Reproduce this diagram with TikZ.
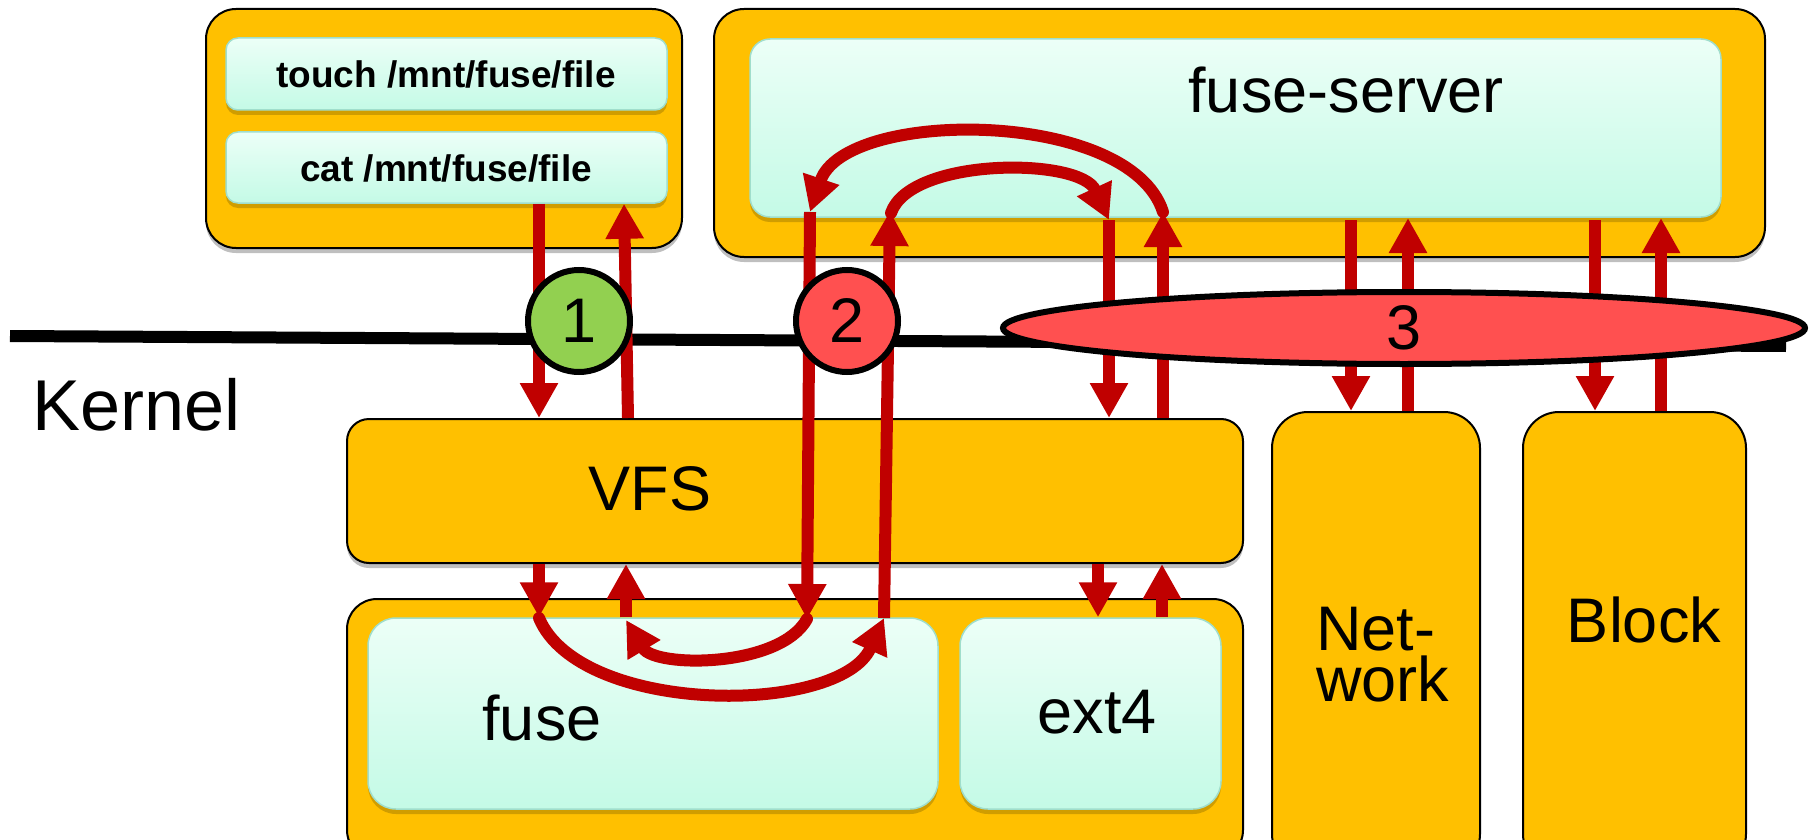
\documentclass[tikz,border=0pt]{standalone}
\usepackage{fontspec}
\setmainfont{Liberation Sans}
\usetikzlibrary{arrows.meta,shadows,shapes.geometric}
\definecolor{orng}{HTML}{FFC000}
\definecolor{arrred}{HTML}{C00000}
\definecolor{mintT}{RGB}{236,255,247}
\definecolor{mintB}{RGB}{196,250,230}
\definecolor{mintD}{RGB}{160,222,204}
\definecolor{grn}{HTML}{92D050}
\definecolor{rd}{HTML}{FF5050}
\begin{document}
\begin{tikzpicture}[x=1pt,y=-1pt,
  outerbox/.style={draw=black,line width=2pt,fill=orng,rounded corners=30pt,inner sep=0pt,
    drop shadow={shadow xshift=0pt,shadow yshift=-5pt,opacity=0.25,fill=black}},
  innerbox/.style={draw=mintD,line width=1.5pt,top color=mintT,bottom color=mintB,inner sep=0pt,
    drop shadow={shadow xshift=0pt,shadow yshift=-5pt,opacity=0.3,fill=black!60!orng}},
  big/.style={font=\fontsize{63}{63}\selectfont,inner sep=0pt},
  cmd/.style={font=\fontsize{37}{37}\selectfont\bfseries,inner sep=0pt},
  arr/.style={draw=arrred,line width=12pt,-{Triangle[width=36pt,length=35pt]}},
  arc/.style={arr,line cap=round},
  marker/.style={draw=black,line width=6pt,inner sep=0pt,font=\fontsize{63}{63}\selectfont}]
\useasboundingbox (0,0) rectangle (1810,840);
\fill[white] (0,0) rectangle (1810,840);
\begin{scope}
\clip (0,0) rectangle (1810,840);
% boxes
\node[outerbox,minimum width=476pt,minimum height=239pt] (user) at (444,128.5) {};
\node[innerbox,rounded corners=12pt,minimum width=441pt,minimum height=72pt] (touch) at (446.5,74) {};
\node[innerbox,rounded corners=12pt,minimum width=441pt,minimum height=71pt] (cat) at (446.5,167.5) {};
\node[outerbox,minimum width=1051pt,minimum height=248pt] (server) at (1239.5,133) {};
\node[innerbox,rounded corners=20pt,minimum width=971pt,minimum height=178pt] (serverin) at (1235.5,128) {};
\node[outerbox,rounded corners=22pt,minimum width=896pt,minimum height=144pt] (vfs) at (795,491) {};
\node[outerbox,minimum width=896pt,minimum height=261pt] (fsbox) at (795,729.5) {};
\node[innerbox,rounded corners=28pt,minimum width=570pt,minimum height=191pt] (fusein) at (653,713.5) {};
\node[innerbox,rounded corners=28pt,minimum width=261pt,minimum height=191pt] (ext4) at (1090.5,713.5) {};
\node[outerbox,rounded corners=36pt,minimum width=208pt,minimum height=458pt] (net) at (1376,641) {};
\node[outerbox,rounded corners=36pt,minimum width=223pt,minimum height=458pt] (block) at (1634.5,641) {};
% texts
\node[cmd,anchor=base] (ttouch) at (446,88) {touch /mnt/fuse/file};
\node[cmd,anchor=base] (tcat) at (446,182) {cat /mnt/fuse/file};
\node[big,anchor=base] (tserver) at (1346,113) {fuse-server};
\node[big,anchor=base] (tvfs) at (650,510) {VFS};
\node[big,anchor=base] (tfuse) at (542,740) {fuse};
\node[big,anchor=base] (text4) at (1097,733) {ext4};
\node[inner sep=0pt,align=left,font=\fontsize{63}{51}\selectfont,anchor=north west] (tnet) at (1316,607) {Net-\\work};
\node[big,anchor=base] (tblock) at (1644,642) {Block};
\node[font=\fontsize{72}{72}\selectfont,inner sep=0pt,anchor=base west] (kernel) at (32,430) {Kernel};
% kernel line
\coordinate (kl) at (10,336);
\coordinate (kr) at (1786,346);
\draw[line width=12pt] (kl) -- (kr);
% arrows: user <-> VFS
\draw[arr] (539,0 |- cat.south) -- (539,0 |- vfs.north);
\draw[arr] (628,0 |- vfs.north) -- (624,0 |- cat.south);
% VFS <-> fuse
\draw[arr] (539,0 |- vfs.south) -- (539,0 |- fusein.north);
\draw[arr] (626,0 |- fusein.north) -- (626,0 |- vfs.south);
% fuse -> fuse-server -> VFS
\coordinate (f1) at (539,618);
\coordinate (f2) at (884,618);
\coordinate (s1) at (890,211);
\coordinate (s2) at (1109,220);
\draw[arc] (f1) .. controls (580,716) and (840,716) .. (f2);
\draw[arr] (f2) -- (s1);
\draw[arc] (891,213) .. controls (910,157) and (1080,157) .. (s2);
\draw[arr] (s2) -- (1109,0 |- vfs.north);
% VFS <-> ext4
\draw[arr] (1098,0 |- vfs.south) -- (1098,0 |- ext4.north);
\draw[arr] (1162,0 |- ext4.north) -- (1162,0 |- vfs.south);
% VFS -> fuse-server -> fuse
\coordinate (s3) at (1163,212);
\coordinate (s4) at (810,212);
\coordinate (f3) at (807,619);
\coordinate (f4) at (626,620);
\draw[arr] (1163,0 |- vfs.north) -- (s3);
\draw[arc] (s3) .. controls (1130,108) and (845,108) .. (s4);
\draw[arr] (s4) -- (f3);
\draw[arc] (f3) .. controls (780,668) and (655,668) .. (f4);
% fuse-server <-> Network / Block
\draw[arr] (1351,220) -- (1351,0 |- net.north);
\draw[arr] (1408,0 |- net.north) -- (1408,218);
\draw[arr] (1595,220) -- (1595,0 |- block.north);
\draw[arr] (1661,0 |- block.north) -- (1661,218);
% markers
\node[marker,circle,fill=grn,minimum size=102pt] (m1) at (579,321) {1};
\node[marker,circle,fill=rd,minimum size=102pt] (m2) at (847,321) {2};
\node[marker,ellipse,fill=rd,minimum width=802pt,minimum height=72pt] (m3) at (1404,328) {3};
\end{scope}
\end{tikzpicture}
\end{document}
